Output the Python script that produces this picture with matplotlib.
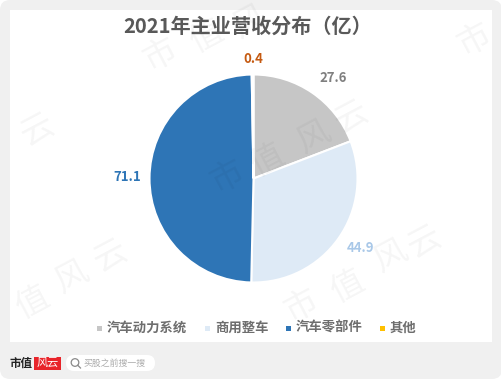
import matplotlib
matplotlib.use('Agg')
import matplotlib.pyplot as plt
from matplotlib.patches import FancyBboxPatch, Rectangle, Circle
from matplotlib.lines import Line2D

plt.rcParams['font.family'] = ['Noto Sans CJK SC', 'DejaVu Sans']

categories = ['汽车动力系统', '商用整车', '汽车零部件', '其他']
values = [27.6, 44.9, 71.1, 0.4]
colors = ['#C6C6C6', '#DEEAF6', '#2E75B6', '#FFC000']
label_colors = ['#7F7F7F', '#A9C8E8', '#2E75B6', '#C55A11']
W, H = 502, 379

fig = plt.figure(figsize=(W / 100, H / 100), dpi=100, facecolor='white')

# page background, pixel coords with origin top left
bg = fig.add_axes([0, 0, 1, 1])
bg.set_xlim(0, W)
bg.set_ylim(H, 0)
bg.axis('off')
bg.add_patch(FancyBboxPatch((6, 6), W - 12, H - 12, boxstyle='round,pad=6,rounding_size=10',
                            fc='#F0F0F0', ec='none'))
bg.add_patch(Rectangle((10, 10), 482, 332, fc='white', ec='none'))

bg.text(248, 26, '2021年主业营收分布（亿）', fontsize=14.5, fontweight='bold', color='#595959',
        ha='center', va='center', zorder=3)

# pie
R = 104
cx, cy = 253.5, 178.5
ax = fig.add_axes([(cx - R) / W, 1 - (cy + R) / H, 2 * R / W, 2 * R / H], zorder=2)
ax.patch.set_alpha(0)
wedges, _ = ax.pie(values, colors=colors, startangle=90, counterclock=False, radius=1,
                   wedgeprops=dict(ec='white', lw=1.5))
ax.set_xlim(-1, 1)
ax.set_ylim(-1, 1)

lab = fig.add_axes([0, 0, 1, 1], zorder=3)
lab.set_xlim(0, W)
lab.set_ylim(H, 0)
lab.axis('off')

# watermark, one glyph at a time because the letters are spaced out
marks = [('市', 160, 55), ('值', 207, 36), ('风', 250, 22),
         ('云', 37, 130),
         ('市', 227, 177), ('值', 268, 160), ('风', 314, 137), ('云', 351, 117),
         ('市', 474, 40),
         ('值', 33, 302), ('风', 72, 277), ('云', 110, 256),
         ('市', 301, 306), ('值', 348, 286), ('风', 391, 256), ('云', 424, 242)]
for ch, x, y in marks:
    lab.text(x, y, ch, fontsize=24, color='black', alpha=0.04, rotation=28,
             ha='center', va='center', fontweight='light')

label_pos = [(333, 78), (361, 248), (127, 177), (253, 59)]
for (x, y), val, c in zip(label_pos, values, label_colors):
    lab.text(x, y, str(val), fontsize=9.5, fontweight='bold', color=c, ha='center', va='center')

# legend
marker_x = [99.5, 208, 289, 383]
text_x = [106.5, 215, 296, 390]
for mx, tx, name, c in zip(marker_x, text_x, categories, colors):
    lab.add_patch(Rectangle((mx - 2.5, 325.5), 5, 5, fc=c, ec='none'))
    lab.text(tx, 328, name, fontsize=9.6, fontweight='bold', color='#6E6E6E', ha='left', va='center')

# footer
lab.text(10, 363, '市值', fontsize=8.3, fontweight='bold', color='#222222', ha='left', va='center')
lab.add_patch(Rectangle((34, 357), 27, 13, fc='#E8242A', ec='none'))
lab.text(47.5, 363, '风云', fontsize=8, color='white', style='italic', ha='center', va='center')
lab.add_patch(FancyBboxPatch((66, 355), 89, 16, boxstyle='round,pad=0,rounding_size=8', fc='white', ec='none'))
lab.add_patch(Circle((75, 362.5), 3.8, fc='none', ec='#8A8A8A', lw=0.9))
lab.add_line(Line2D([77.8, 80.5], [365.3, 368], color='#8A8A8A', lw=0.9))
lab.text(84, 363, '买股之前搜一搜', fontsize=6.4, color='#ABABAB', ha='left', va='center')

fig.savefig('out.png', dpi=100)
